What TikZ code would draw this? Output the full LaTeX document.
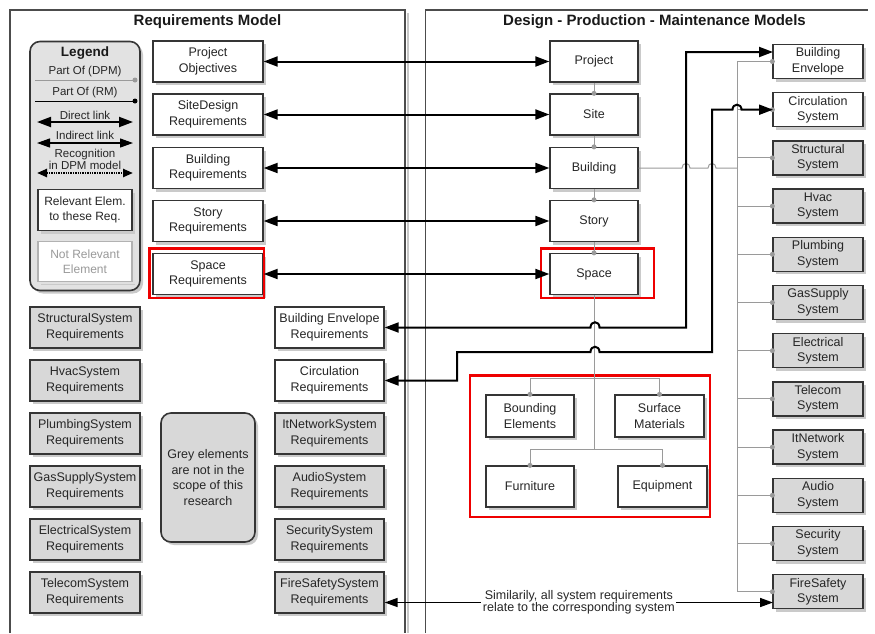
\documentclass[tikz,border=0pt]{standalone}
\usepackage{fontspec}
\setmainfont{Liberation Sans}
\usetikzlibrary{arrows.meta,shadows}
\definecolor{hlred}{HTML}{EE0000}
\definecolor{greyfill}{HTML}{D8D8D8}
\definecolor{legendfill}{HTML}{E2E2E2}
\definecolor{edge}{HTML}{353535}
\definecolor{partgrey}{HTML}{9A9A9A}
\definecolor{shade}{HTML}{CACACA}
\begin{document}
\begin{tikzpicture}[x=1pt,y=-1pt,
  boxtext/.style={font=\fontsize{12.5}{15.5}\selectfont, text=black!85},
  box/.style={boxtext, draw=edge, line width=1.3pt, fill=white,
    minimum width=110pt, minimum height=41pt, inner sep=0pt, align=center,
    drop shadow={shadow xshift=3pt, shadow yshift=-3pt, fill=shade, opacity=1}},
  greybox/.style={box, fill=greyfill},
  midbox/.style={box, minimum width=109pt},
  midgrey/.style={midbox, fill=greyfill},
  dpmbox/.style={box, minimum width=88pt},
  subbox/.style={box, minimum width=88pt, minimum height=42pt},
  sysbox/.style={box, minimum width=90pt, minimum height=34pt},
  sysgrey/.style={sysbox, fill=greyfill},
  panel/.style={draw=black!70, line width=1.4pt},
  panelshadow/.style={draw=black!22, line width=2.5pt},
  title/.style={font=\fontsize{15}{18}\bfseries\selectfont, text=black!90},
  hl/.style={draw=hlred, line width=2.8pt},
  link/.style={line width=2pt, {Triangle[length=14pt,width=10pt]}-{Triangle[length=14pt,width=10pt]}},
  thinlink/.style={line width=1.3pt, {Triangle[length=13pt,width=9pt]}-{Triangle[length=13pt,width=9pt]}},
  partof/.style={draw=partgrey, line width=1pt},
  gdot/.style={circle, fill=partgrey, inner sep=0pt, minimum size=5pt},
  bdot/.style={circle, fill=black, inner sep=0pt, minimum size=5pt},
  legtext/.style={font=\fontsize{11.5}{12}\selectfont, text=black!85, inner sep=0pt, align=center},
  roundnote/.style={boxtext, draw=edge, line width=1.6pt, fill=greyfill, rounded corners=10pt,
    inner sep=0pt, align=center,
    drop shadow={shadow xshift=3pt, shadow yshift=-3pt, fill=shade, opacity=1}}
]
\useasboundingbox (0,0) rectangle (875,633);

% ---------- panels ----------
\draw[panelshadow] (408,13) -- (408,633);
\draw[panel] (10,633) -- (10,10) -- (405,10) -- (405,633);
\draw[panel] (425.5,633) -- (425.5,10) -- (868,10);
\node[title] (rmtitle) at (207.5,22) {Requirements Model};
\node[title] (dpmtitle) at (654.5,22) {Design - Production - Maintenance Models};

% ---------- legend ----------
\node[roundnote, fill=legendfill, minimum width=110pt, minimum height=249pt] (legend) at (85,166) {};
\node[font=\fontsize{13.5}{16}\bfseries\selectfont, text=black!90] (legtitle) at (85,53) {Legend};
\node[legtext] (lgdpm) at (85,72) {Part Of (DPM)};
\coordinate (ldpmA) at (35,80); \coordinate (ldpmB) at (135,80);
\draw[partof] (ldpmA) -- (ldpmB);
\node[gdot] at (ldpmB) {};
\node[legtext] (lgrm) at (85,93) {Part Of (RM)};
\coordinate (lrmA) at (35,101); \coordinate (lrmB) at (135,101);
\draw[line width=1pt] (lrmA) -- (lrmB);
\node[bdot] at (lrmB) {};
\node[legtext] (lgdir) at (85,115) {Direct link};
\coordinate (ldirA) at (37,122); \coordinate (ldirB) at (133,122);
\draw[link] (ldirA) -- (ldirB);
\node[legtext] (lgind) at (85,135) {Indirect link};
\coordinate (lindA) at (37,143); \coordinate (lindB) at (133,143);
\draw[thinlink, line width=1.2pt] (lindA) -- (lindB);
\node[legtext] (lgrec) at (85,159) {Recognition\\in DPM model};
\coordinate (lrecA) at (37,173); \coordinate (lrecB) at (133,173);
\draw[line width=2.3pt, dash pattern=on 1.4pt off 1pt,
  {Triangle[length=10pt,width=8pt]}-{Triangle[length=10pt,width=8pt]}] (lrecA) -- (lrecB);
\node[box, minimum width=94pt, minimum height=41pt, font=\fontsize{12}{15}\selectfont] (lgrel) at (85,210) {Relevant Elem.\\to these Req.};
\node[box, draw=black!30, text=black!40, minimum width=94pt, minimum height=40pt,
  font=\fontsize{12}{15}\selectfont,
  drop shadow={shadow xshift=2.5pt, shadow yshift=-2.5pt, fill=black!12, opacity=1}] (lgnot) at (85,261.5) {Not Relevant\\Element};

% ---------- requirements model ----------
\node[box] (po)  at (208,61.5) {Project\\Objectives};
\node[box] (sdr) at (208,114.5) {SiteDesign\\Requirements};
\node[box] (bdr) at (208,168) {Building\\Requirements};
\node[box] (str) at (208,221) {Story\\Requirements};
\node[box] (spr) at (208,274) {Space\\Requirements};
\draw[hl] (149.5,248.5) rectangle (264,298);

\node[greybox] (strucreq) at (85,327.5) {StructuralSystem\\Requirements};
\node[greybox] (hvacreq)  at (85,380.5) {HvacSystem\\Requirements};
\node[greybox] (plumbreq) at (85,433.5) {PlumbingSystem\\Requirements};
\node[greybox] (gasreq)   at (85,486.5) {GasSupplySystem\\Requirements};
\node[greybox] (elecreq)  at (85,539.5) {ElectricalSystem\\Requirements};
\node[greybox] (telreq)   at (85,592.5) {TelecomSystem\\Requirements};

\node[midbox]  (bereq)   at (329.5,327.5) {Building Envelope\\Requirements};
\node[midbox]  (circreq) at (329.5,380.5) {Circulation\\Requirements};
\node[midgrey] (itreq)   at (329.5,433.5) {ItNetworkSystem\\Requirements};
\node[midgrey] (audreq)  at (329.5,486.5) {AudioSystem\\Requirements};
\node[midgrey] (secreq)  at (329.5,539.5) {SecuritySystem\\Requirements};
\node[midgrey] (firereq) at (329.5,592.5) {FireSafetySystem\\Requirements};

\node[roundnote, minimum width=94pt, minimum height=129pt] (scope) at (208,477.5)
  {Grey elements\\are not in the\\scope of this\\research};

% ---------- DPM models ----------
\node[dpmbox] (project)  at (594,61.5) {Project};
\node[dpmbox] (site)     at (594,114.5) {Site};
\node[dpmbox] (building) at (594,168) {Building};
\node[dpmbox] (story)    at (594,221) {Story};
\node[dpmbox] (space)    at (594,274) {Space};
\draw[hl] (541,248.5) rectangle (654,298);

\node[subbox] (bound) at (530,416) {Bounding\\Elements};
\node[subbox, minimum width=89pt] (surf) at (659.5,416) {Surface\\Materials};
\node[subbox, minimum height=41pt] (furn) at (530,486.5) {Furniture};
\node[subbox, minimum width=89pt, minimum height=41pt] (equip) at (662.5,486.5) {Equipment};
\draw[hl] (470,375.5) rectangle (710,517);

\node[sysbox]  (sysenv)  at (818,61.5)  {Building\\Envelope};
\node[sysbox]  (syscirc) at (818,109.7) {Circulation\\System};
\node[sysgrey] (sysstr)  at (818,157.9) {Structural\\System};
\node[sysgrey] (syshvac) at (818,206.1) {Hvac\\System};
\node[sysgrey] (sysplum) at (818,254.3) {Plumbing\\System};
\node[sysgrey] (sysgas)  at (818,302.5) {GasSupply\\System};
\node[sysgrey] (syselec) at (818,350.7) {Electrical\\System};
\node[sysgrey] (systel)  at (818,398.9) {Telecom\\System};
\node[sysgrey] (sysit)   at (818,447.1) {ItNetwork\\System};
\node[sysgrey] (sysaud)  at (818,495.3) {Audio\\System};
\node[sysgrey] (syssec)  at (818,543.5) {Security\\System};
\node[sysgrey] (sysfire) at (818,591.7) {FireSafety\\System};

% ---------- part-of relations (DPM) ----------
\foreach \a/\b in {project/site, site/building, building/story, story/space} {
  \draw[partof] (\a.south) -- (\b.north);
  \node[gdot] at (\b.north) {};
}
\coordinate (spacefork) at (594,450);
\draw[partof] (space.south) -- (spacefork);
\draw[partof] (bound.north) -- ++(0,-16) -| (surf.north);
\draw[partof] (furn.north) -- ++(0,-16) -| (equip.north);
\foreach \n in {bound, surf, furn, equip} \node[gdot] at (\n.north) {};

% system tree hanging from the building
\coordinate (trunktop) at (737,61.5);
\coordinate (trunkbot) at (737,591.7);
\draw[partof] (sysenv.west) -- (trunktop) -- (trunkbot) -- (sysfire.west);
\foreach \n in {syscirc, sysstr, syshvac, sysplum, sysgas, syselec, systel, sysit, sysaud, syssec}
  \draw[partof] (\n.west -| trunktop) -- (\n.west);
\foreach \n in {sysenv, syscirc, sysstr, syshvac, sysplum, sysgas, syselec, systel, sysit, sysaud, syssec, sysfire}
  \node[gdot] at (\n.west) {};
\draw[partof] (building.east) -- (682,168) .. controls (682,162) and (690,162) .. (690,168)
  -- (708,168) .. controls (708,162) and (716,162) .. (716,168) -- (building.east -| trunktop);

% ---------- links between the two models ----------
\draw[link] (po.east)  -- (project.west);
\draw[link] (sdr.east) -- (site.west);
\draw[link] (bdr.east) -- (building.west);
\draw[link] (str.east) -- (story.west);
\draw[link] (spr.east) -- (space.west);

\coordinate (envin) at (773,52);
\draw[link] (bereq.east) -- (590.5,327.5) .. controls (590.5,320.5) and (599.5,320.5) .. (599.5,327.5)
  -- (686,327.5) -- (686,52) -- (envin);
\coordinate (circin) at (773,109.7);
\draw[link] (circreq.east) -- (457,380.5) -- (457,352) -- (590.5,352)
  .. controls (590.5,345) and (599.5,345) .. (599.5,352) -- (712,352) -- (712,109.7)
  -- (732.5,109.7) .. controls (732.5,103) and (741.5,103) .. (741.5,109.7) -- (circin);

\coordinate (firein) at (773,602.5);
\draw[thinlink, line width=1.6pt] (firereq.east |- firein) -- (firein)
  node[midway, fill=white, inner sep=1.5pt, align=center, text=black!85,
       font=\fontsize{12.5}{12}\selectfont] (firelabel)
  {Similarily, all system requirements\\relate to the corresponding system};
\end{tikzpicture}
\end{document}
